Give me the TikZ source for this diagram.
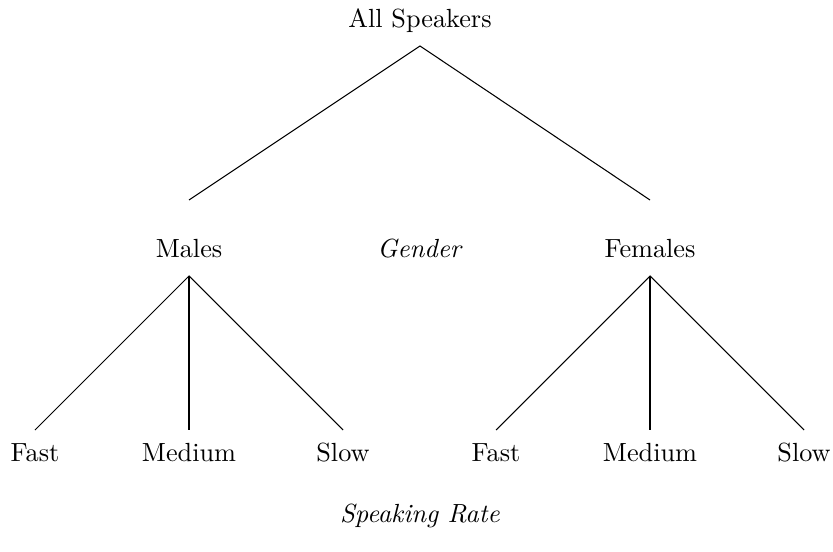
\documentclass[tikz,border=0pt]{standalone}
\usepackage{amsmath, amsfonts}
\usepackage{tikz}
\usetikzlibrary{positioning}

\begin{document}
\begin{tikzpicture}[x=0.381pt,y=-0.381pt]
\tikzstyle{every node}+=[inner sep=0pt]
\tikzstyle{lbl}=[anchor=base]
\tikzstyle{branch}=[black, line width=0.4pt]
\tikzstyle{stem}=[black, line width=0.8pt]
\useasboundingbox (0,0) rectangle (833,552);
% labels
\node [lbl] (all) at (420,28) {All Speakers};
\node [lbl] (males) at (189,258) {Males};
\node [lbl] (gender) at (420,258) {\textit{Gender}};
\node [lbl] (females) at (650,258) {Females};
\node [lbl] (mfast) at (35,461) {Fast};
\node [lbl] (mmed) at (189,461) {Medium};
\node [lbl] (mslow) at (343,461) {Slow};
\node [lbl] (ffast) at (496,461) {Fast};
\node [lbl] (fmed) at (650,461) {Medium};
\node [lbl] (fslow) at (804,461) {Slow};
\node [lbl] (rate) at (420,522) {\textit{Speaking Rate}};
% line ends
\coordinate (alltop) at (420,46);
\coordinate (mend) at (189,200);
\coordinate (fend) at (650,200);
\coordinate (mtop) at (189,276);
\coordinate (ftop) at (650,276);
\coordinate (a1) at (35,430);
\coordinate (a2) at (189,430);
\coordinate (a3) at (343,430);
\coordinate (b1) at (496,430);
\coordinate (b2) at (650,430);
\coordinate (b3) at (804,430);
% branches
\draw [branch] (mend) -- (alltop) -- (fend);
\draw [branch] (a1) -- (mtop) -- (a3);
\draw [stem] (mtop) -- (a2);
\draw [branch] (b1) -- (ftop) -- (b3);
\draw [stem] (ftop) -- (b2);
\end{tikzpicture}
\end{document}
